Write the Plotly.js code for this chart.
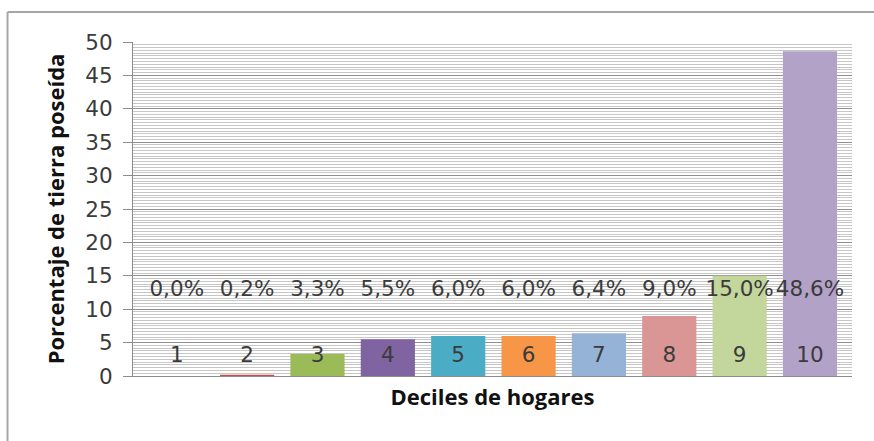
<!DOCTYPE html>
<html>
<head>
<meta charset="utf-8">
<script src="https://cdn.plot.ly/plotly-3.0.1.min.js"></script>
<style>html,body{margin:0;padding:0;background:#fff;}#chart{width:874px;height:441px;}</style>
</head>
<body>
<div id="chart"></div>
<script>
// ---- data ----
const deciles = [1, 2, 3, 4, 5, 6, 7, 8, 9, 10];
const decileLabels = ["1", "2", "3", "4", "5", "6", "7", "8", "9", "10"];
const landShare = [0.0, 0.2, 3.3, 5.5, 6.0, 6.0, 6.4, 9.0, 15.0, 48.6];
const shareLabels = ["0,0%", "0,2%", "3,3%", "5,5%", "6,0%", "6,0%", "6,4%", "9,0%", "15,0%", "48,6%"];
const barColors = ["#4F81BD", "#C0504D", "#9BBB59", "#8064A2", "#4BACC6", "#F79646", "#95B3D7", "#D99694", "#C3D69B", "#B3A2C7"];
const yTicks = [0, 5, 10, 15, 20, 25, 30, 35, 40, 45, 50];

// ---- style constants ----
const FONT = "DejaVu Sans, sans-serif";
const TFONT = "Open Sans, sans-serif";
const TXT = "#3b3b3b";
const PCT_LABEL_Y = 12.8;
const NUM_LABEL_Y = 2.9;

const traces = [
  {
    type: "bar", x: deciles, y: landShare, width: 0.77,
    marker: {color: barColors, line: {width: 0}},
    hoverinfo: "skip", showlegend: false
  },
  {
    type: "scatter", mode: "text", x: deciles, y: deciles.map(() => PCT_LABEL_Y),
    text: shareLabels, textposition: "middle center",
    textfont: {family: FONT, size: 21.5, color: TXT},
    hoverinfo: "skip", showlegend: false, cliponaxis: false
  },
  {
    type: "scatter", mode: "text", x: deciles, y: deciles.map(() => NUM_LABEL_Y),
    text: decileLabels, textposition: "middle center",
    textfont: {family: FONT, size: 21.5, color: TXT},
    hoverinfo: "skip", showlegend: false, cliponaxis: false
  }
];

const layout = {
  width: 874, height: 441,
  margin: {l: 133, r: 22, t: 42, b: 65},
  paper_bgcolor: "#ffffff", plot_bgcolor: "#ffffff",
  font: {family: FONT, color: TXT},
  showlegend: false,
  xaxis: {
    range: [0.378, 10.597], showticklabels: false, ticks: "",
    showgrid: false, zeroline: false,
    showline: true, linecolor: "#8c8c8c", linewidth: 1,
    title: {text: "Deciles de hogares", font: {family: TFONT, size: 22, color: "#111", weight: "bold"}, standoff: 13},
    automargin: false
  },
  yaxis: {
    range: [0, 50], tickvals: yTicks, ticktext: yTicks.map(String),
    ticks: "outside", ticklen: 9, tickcolor: "#8c8c8c", tickwidth: 1,
    tickfont: {family: FONT, size: 21.5, color: TXT},
    ticklabelstandoff: 6,
    showline: true, linecolor: "#8c8c8c", linewidth: 1,
    showgrid: true, gridcolor: "#8f8f8f", gridwidth: 1,
    zeroline: false,
    minor: {dtick: 5 / 12, showgrid: true, gridcolor: "#c6c6c6", gridwidth: 1, ticks: ""},
    title: {text: "Porcentaje de tierra poseída", font: {family: TFONT, size: 22, color: "#111", weight: "bold"}, standoff: 14},
    automargin: false
  },
  shapes: [
    {type: "line", xref: "paper", yref: "paper", x0: -0.1745, x1: -0.1745, y0: -0.4, y1: 1.0898,
     line: {color: "#a6a6a6", width: 2}},
    {type: "line", xref: "paper", yref: "paper", x0: -0.1745, x1: 1.2, y0: 1.0898, y1: 1.0898,
     line: {color: "#a6a6a6", width: 2}}
  ]
};

Plotly.newPlot("chart", traces, layout, {staticPlot: true, displayModeBar: false});
</script>
</body>
</html>
